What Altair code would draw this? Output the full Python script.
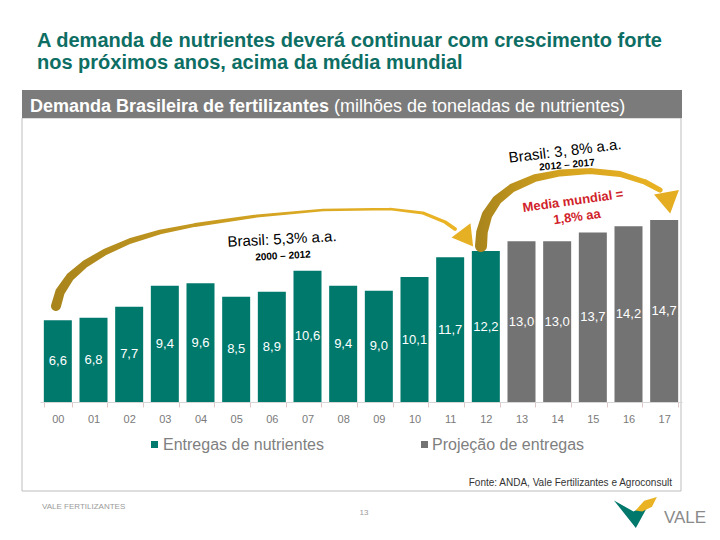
import altair as alt
import pandas as pd

# ---------------- data ----------------
years = ["00", "01", "02", "03", "04", "05", "06", "07", "08", "09",
         "10", "11", "12", "13", "14", "15", "16", "17"]
values = [6.6, 6.8, 7.7, 9.4, 9.6, 8.5, 8.9, 10.6, 9.4, 9.0,
          10.1, 11.7, 12.2, 13.0, 13.0, 13.7, 14.2, 14.7]
series_names = ["Entregas de nutrientes", "Projeção de entregas"]
series = [series_names[0]] * 13 + [series_names[1]] * 5
colors = ["#00796d", "#737373"]

title_lines = ["A demanda de nutrientes deverá continuar com crescimento forte",
               "nos próximos anos, acima da média mundial"]
header_bold = "Demanda Brasileira de fertilizantes"
header_reg = "(milhões de toneladas de nutrientes)"
source = "Fonte: ANDA, Vale Fertilizantes e Agroconsult"

# annotation arrows (page pixel path, width)
arrow1_x = [56, 60, 70, 85, 105, 130, 160, 195, 257, 323, 390, 423, 445, 455]
arrow1_y = [306, 292, 277, 264, 252, 241, 232, 225, 216, 210, 209, 213, 222, 229]
arrow1_w = [10, 9.5, 8.5, 7.5, 6.5, 5.5, 4.5, 3.8, 3, 2.6, 2.6, 3, 3.4, 3.8]
arrow2_x = [481, 482, 487, 497, 512, 535, 560, 590, 620, 645, 660]
arrow2_y = [246, 232, 215, 200, 188, 178, 173, 171, 174, 182, 190]
arrow2_w = [12, 11.5, 10.5, 9.5, 8.5, 7.5, 6.8, 6.2, 5.8, 5.5, 5.2]

OX, OY = 40, 204  # page position of plot origin

df = pd.DataFrame({
    "year": years,
    "value": values,
    "series": series,
    "label": [f"{v:.1f}".replace(".", ",") for v in values],
})

xenc = alt.X("year:N", sort=years,
             scale=alt.Scale(domain=years, paddingInner=0.215, paddingOuter=0.1075),
             axis=alt.Axis(title=None, labelAngle=0, labelColor="#7a7a7a", labelFontSize=11,
                           labelPadding=6, tickSize=5, tickBand="extent", zindex=1,
                           tickColor="#e0c8c8", domainColor="#d6d6d6", grid=False))
yscale = alt.Scale(domain=[0, 16])

bars = alt.Chart(df).mark_bar().encode(
    x=xenc,
    y=alt.Y("value:Q", scale=yscale, axis=None),
    color=alt.Color("series:N", scale=alt.Scale(domain=series_names, range=colors), legend=None),
)
labels = alt.Chart(df).transform_calculate(mid="datum.value / 2").mark_text(
    color="white", fontSize=13, baseline="middle"
).encode(
    x=alt.X("year:N", sort=years, scale=alt.Scale(domain=years)),
    y=alt.Y("mid:Q", scale=yscale, axis=None),
    text="label:N",
)
main = alt.layer(bars, labels)

one = pd.DataFrame({"a": [0]})


def txt(s, x, y, **kw):
    return alt.Chart(one).mark_text(text=s, **kw).encode(
        x=alt.value(x - OX), y=alt.value(y - OY))


def rect(x1, x2, y1, y2, **kw):
    return alt.Chart(one).mark_rect(**kw).encode(
        x=alt.value(x1 - OX), x2=alt.value(x2 - OX),
        y=alt.value(y1 - OY), y2=alt.value(y2 - OY))


def sym(x, y, **kw):
    return alt.Chart(one).mark_point(filled=True, opacity=1, strokeWidth=0, **kw).encode(
        x=alt.value(x - OX), y=alt.value(y - OY))


def trail(xs, ys, ws, grad):
    d = pd.DataFrame({"x": [v - OX for v in xs], "y": [v - OY for v in ys],
                      "w": ws, "i": list(range(len(xs)))})
    return alt.Chart(d).mark_trail(color=grad).encode(
        x=alt.X("x:Q", scale=None, axis=None),
        y=alt.Y("y:Q", scale=None, axis=None),
        size=alt.Size("w:Q", scale=None, legend=None),
        order="i:Q",
    )


grad1 = alt.LinearGradient(gradient="linear", x1=0, x2=1, y1=0, y2=0,
                           stops=[alt.GradientStop(color="#a8841c", offset=0),
                                  alt.GradientStop(color="#d9a823", offset=0.6),
                                  alt.GradientStop(color="#ebb424", offset=1)])
grad2 = alt.LinearGradient(gradient="linear", x1=0, x2=1, y1=0, y2=0,
                           stops=[alt.GradientStop(color="#a8841c", offset=0),
                                  alt.GradientStop(color="#d8a520", offset=0.5),
                                  alt.GradientStop(color="#e9b222", offset=1)])

head_shape = "M-1,-0.7L1,-0.7L0,1Z"
logo_green = "M-1,-0.62L0,-0.05L0.8,-0.45L0.12,0.8Z"
logo_yellow = "M0.1,-0.1L0.55,-0.6L1.2,-0.8L0.95,-0.3L0.45,-0.05Z"

decos = [
    # panel
    rect(22, 681, 118, 491, fillOpacity=0, stroke="#bdbdbd", strokeWidth=1),
    rect(22, 682, 90, 118, color="#7b7b7b"),
    txt(header_bold, 30, 112, align="left", baseline="alphabetic", fontSize=18,
        fontWeight="bold", color="white"),
    txt(header_reg, 334, 112, align="left", baseline="alphabetic", fontSize=18,
        color="white"),
    # title
    txt(title_lines[0], 37, 47, align="left", baseline="alphabetic", fontSize=20,
        fontWeight="bold", color="#0d6e64"),
    txt(title_lines[1], 37, 69, align="left", baseline="alphabetic", fontSize=20,
        fontWeight="bold", color="#0d6e64"),
]

annots = [
    trail(arrow1_x, arrow1_y, arrow1_w, grad1),
    sym(466, 237, shape=head_shape, size=560, angle=323, color="#e6b024"),
    trail(arrow2_x, arrow2_y, arrow2_w, grad2),
    sym(668, 201, shape=head_shape, size=640, angle=350, color="#e4ad22"),
    txt("Brasil:  5,3% a.a.", 282, 239, fontSize=15, angle=357, color="black"),
    txt("2000 – 2012", 283, 256, fontSize=10, fontWeight="bold", angle=357, color="black"),
    txt("Brasil: 3, 8% a.a.", 565, 151, fontSize=15, angle=353, color="black"),
    txt("2012 – 2017", 567, 165, fontSize=10, fontWeight="bold", angle=355, color="black"),
    txt("Media mundial =", 573, 201, fontSize=13, fontWeight="bold", angle=352, color="#d11f2b"),
    txt("1,8% aa", 577, 217, fontSize=13, fontWeight="bold", angle=352, color="#d11f2b"),
    # legend
    sym(154.5, 444.5, shape="square", size=49, color=colors[0]),
    txt(series_names[0], 163, 445, align="left", baseline="middle", fontSize=16, color="#7f7f7f"),
    sym(424.5, 444.5, shape="square", size=49, color=colors[1]),
    txt(series_names[1], 432, 445, align="left", baseline="middle", fontSize=16, color="#7f7f7f"),
    # source and footer
    txt(source, 672, 483, align="right", baseline="middle", fontSize=10, color="#333333"),
    txt("VALE FERTILIZANTES", 42, 507, align="left", baseline="middle", fontSize=8, color="#9a9a9a"),
    txt("13", 364, 513, baseline="middle", fontSize=8, color="#9a9a9a"),
    sym(633.5, 512.5, shape=logo_green, size=1521, color="#00786c"),
    sym(633.5, 512.5, shape=logo_yellow, size=1521, color="#eab323"),
    txt("VALE", 685, 518, baseline="middle", fontSize=17, color="#8a8a8a"),
]

chart = alt.layer(*decos, main, *annots).resolve_scale(
    x="independent", y="independent", size="independent", color="independent"
).properties(
    width=642, height=198,
    autosize=alt.AutoSizeParams(type="none"),
    padding={"left": 32, "top": 196, "right": 30, "bottom": 130},
).configure(font="Liberation Sans", background="white").configure_view(strokeWidth=0)

chart.save("out.html", embed_options={"renderer": "svg", "actions": False})
